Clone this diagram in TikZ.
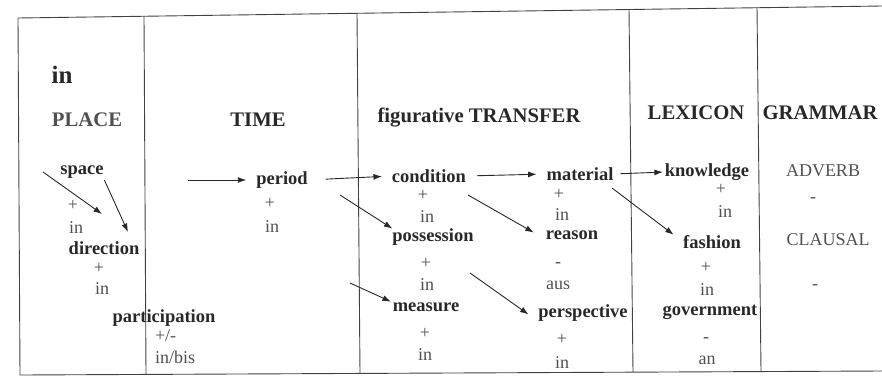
\documentclass[tikz,border=0pt]{standalone}
\usepackage{fontspec}
\setmainfont{Liberation Serif}
\usetikzlibrary{arrows.meta}
\definecolor{inkDark}{RGB}{40,40,40}
\definecolor{inkGray}{RGB}{80,80,80}
\definecolor{ruleGray}{RGB}{65,65,65}
\tikzset{
    base/.style={inner sep=0pt, outer sep=0pt, text=inkDark},
    heading/.style={base, font=\fontsize{20.7}{22}\selectfont\bfseries},
    sense/.style={base, font=\fontsize{18.5}{20}\selectfont\bfseries},
    note/.style={base, font=\fontsize{18}{20}\selectfont, text=inkGray},
    gridline/.style={draw=ruleGray, line width=0.9pt},
    flow/.style={-{Latex[length=8.5pt,width=6pt]}, line width=0.9pt, color=inkDark}
}
\begin{document}
\begin{tikzpicture}[x=1pt, y=-1pt]
  \useasboundingbox (0,0) rectangle (882,378);

  % Table frame
  \draw[gridline] (18,18) -- (882,6);
  \draw[gridline] (20,375) -- (882,371);
  \foreach \xa/\ya/\xb/\yb in {18/18/20/375, 144/16.3/146/374.4, 357/13.3/360/373.4,
                               629/9.5/633/372.2, 757/7.7/761/371.6}
    \draw[gridline] (\xa,\ya) -- (\xb,\yb);

  % PLACE
  \node[base, font=\fontsize{25}{28}\selectfont\bfseries] (prep) at (62,75) {in};
  \node[heading, text=inkGray] (place) at (87,120) {PLACE};
  \node[sense] (space) at (82,172) {space};
  \node[note] (spacePlus) at (73,205) {+};
  \node[note] (spaceIn) at (76,228) {in};
  \node[sense] (direction) at (104,248) {direction};
  \node[note] (dirPlus) at (99,268) {+};
  \node[note] (dirIn) at (102,289) {in};
  \node[sense] (participation) at (164,318) {participation};
  \node[note, anchor=west] (partSign) at (155,336) {+/-};
  \node[note, anchor=west] (partIn) at (155,357) {in/bis};

  % TIME
  \node[heading] (time) at (258,120) {TIME};
  \node[sense] (period) at (282,180) {period};
  \node[note] (periodPlus) at (270,203) {+};
  \node[note] (periodIn) at (272,227) {in};

  % figurative TRANSFER
  \node[heading] (transfer) at (479,117) {figurative TRANSFER};
  \node[sense] (condition) at (429,176) {condition};
  \node[note] (condPlus) at (423,195) {+};
  \node[note] (condIn) at (427,217) {in};
  \node[sense] (possession) at (433,237) {possession};
  \node[note] (possPlus) at (426,263) {+};
  \node[note] (possIn) at (427,285) {in};
  \node[sense] (measure) at (426,307) {measure};
  \node[note] (measPlus) at (425,333) {+};
  \node[note] (measIn) at (425,355) {in};
  \node[sense] (material) at (580,174) {material};
  \node[note] (matPlus) at (559,194) {+};
  \node[note] (matIn) at (562,215) {in};
  \node[sense] (reason) at (572,235) {reason};
  \node[note] (reasMinus) at (558,265) {-};
  \node[note] (reasAus) at (558,285) {aus};
  \node[sense] (perspective) at (583,313) {perspective};
  \node[note] (perspPlus) at (562,339) {+};
  \node[note] (perspIn) at (562,363) {in};

  % LEXICON
  \node[heading] (lexicon) at (696,113) {LEXICON};
  \node[sense] (knowledge) at (707,172) {knowledge};
  \node[note] (knowPlus) at (721,189) {+};
  \node[note] (knowIn) at (725,212) {in};
  \node[sense] (fashion) at (712,242) {fashion};
  \node[note] (fashPlus) at (706,267) {+};
  \node[note] (fashIn) at (707,290) {in};
  \node[sense] (government) at (710,312) {government};
  \node[note] (govMinus) at (706,340) {-};
  \node[note] (govAn) at (707,360) {an};

  % GRAMMAR
  \node[heading] (grammar) at (820,113) {GRAMMAR};
  \node[note] (adverb) at (823,171) {ADVERB};
  \node[note] (advMinus) at (813,200) {-};
  \node[note] (clausal) at (828,240) {CLAUSAL};
  \node[note] (clauMinus) at (815,287) {-};

  % Free arrow ends
  \coordinate (spaceFrom) at (43,172);
  \coordinate (spaceTip) at (102,214);
  \coordinate (dirTip) at (128,232);
  \coordinate (timeFrom) at (188,180);
  \coordinate (possFrom) at (340,195);
  \coordinate (measFrom) at (350,283);
  \coordinate (reasFrom) at (468,195);
  \coordinate (perspFrom) at (470,273);
  \coordinate (fashFrom) at (612,188);

  % Arrows
  \draw[flow] (spaceFrom) -- (spaceTip);
  \draw[flow, shorten <=2pt] (space.south east) -- (dirTip);
  \draw[flow, shorten >=10pt] (timeFrom) -- (period.west);
  \draw[flow, shorten <=18pt, shorten >=10pt] (period.east) -- (condition.west);
  \draw[flow, shorten <=11pt, shorten >=10pt] (condition.east) -- (material.west);
  \draw[flow, shorten <=7pt, shorten >=2pt] (material.east) -- (knowledge.west);
  \draw[flow] (possFrom) -- (possession.north west);
  \draw[flow, shorten >=2pt] (measFrom) -- (measure.north west);
  \draw[flow, shorten >=14pt] (reasFrom) -- (reason.south west);
  \draw[flow, shorten >=12pt] (perspFrom) -- (perspective.south west);
  \draw[flow, shorten >=12pt] (fashFrom) -- (fashion.west);
\end{tikzpicture}
\end{document}
